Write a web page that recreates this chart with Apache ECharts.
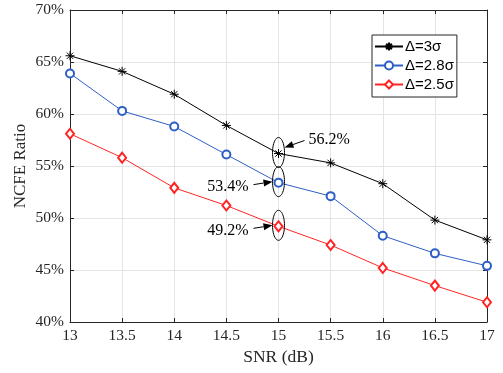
<!DOCTYPE html>
<html>
<head>
<meta charset="utf-8">
<script src="https://cdn.jsdelivr.net/npm/echarts@6/dist/echarts.min.js"></script>
<style>
  html, body { margin: 0; padding: 0; background: #fff; }
  #chart { width: 503px; height: 373px; }
</style>
</head>
<body>
<div id="chart"></div>
<script>
// data
var snr = [13, 13.5, 14, 14.5, 15, 15.5, 16, 16.5, 17];
var ratio3 = [65.6, 64.1, 61.9, 58.9, 56.2, 55.3, 53.3, 49.8, 47.9];
var ratio28 = [63.9, 60.3, 58.8, 56.1, 53.4, 52.1, 48.3, 46.6, 45.4];
var ratio25 = [58.1, 55.8, 52.9, 51.2, 49.2, 47.4, 45.2, 43.5, 41.9];
var seriesNames = ['Δ=3σ', 'Δ=2.8σ', 'Δ=2.5σ'];
// annotated points at SNR = 15 dB
var notes = [
  { x: 15, y: 56.2, text: '56.2%', side: 'right' },
  { x: 15, y: 53.4, text: '53.4%', side: 'left' },
  { x: 15, y: 49.2, text: '49.2%', side: 'left' }
];

function pairs(xs, ys) {
  return xs.map(function (x, i) { return [x, ys[i]]; });
}

var serif = 'Liberation Serif, Times New Roman, serif';
var sans = 'Liberation Sans, Arial, sans-serif';
var axisColor = '#262626';
var star = 'path://M0,-10L0,10M-10,0L10,0M-7,-7L7,7M-7,7L7,-7';

var myChart = echarts.init(document.getElementById('chart'));
var option = {
  animation: false,
  grid: { left: 70, right: 16, top: 10, bottom: 51 },
  legend: {
    orient: 'vertical',
    left: 372,
    top: 35,
    padding: [4, 3, 5, 2],
    itemGap: 4,
    itemWidth: 28,
    itemHeight: 10,
    borderColor: axisColor,
    borderWidth: 1,
    backgroundColor: '#fff',
    textStyle: { fontFamily: sans, fontSize: 15, color: '#000', padding: [0, 0, 0, -3] },
    data: seriesNames
  },
  xAxis: [{
    type: 'value', min: 13, max: 17, interval: 0.5,
    name: 'SNR (dB)', nameLocation: 'middle', nameGap: 24,
    nameTextStyle: { fontFamily: serif, fontSize: 17.5, color: axisColor },
    axisLine: { lineStyle: { color: axisColor } },
    axisTick: { inside: true, length: 4, lineStyle: { color: axisColor } },
    axisLabel: { fontFamily: serif, fontSize: 15.5, color: axisColor, margin: 6 },
    splitLine: { show: true, lineStyle: { color: '#e4e4e4' } }
  }, {
    type: 'value', min: 13, max: 17, interval: 0.5, position: 'top',
    axisLine: { show: true, lineStyle: { color: axisColor } },
    axisTick: { show: true, inside: true, length: 4, lineStyle: { color: axisColor } },
    axisLabel: { show: false }, splitLine: { show: false }
  }],
  yAxis: [{
    type: 'value', min: 40, max: 70, interval: 5,
    name: 'NCFE Ratio', nameLocation: 'middle', nameGap: 41, nameMoveOverlap: false,
    nameTextStyle: { fontFamily: serif, fontSize: 17, color: axisColor },
    axisLine: { show: true, lineStyle: { color: axisColor } },
    axisTick: { show: true, inside: true, length: 4, lineStyle: { color: axisColor } },
    axisLabel: { fontFamily: serif, fontSize: 15.5, color: axisColor, margin: 6, formatter: '{value}%' },
    splitLine: { show: true, lineStyle: { color: '#e4e4e4' } }
  }, {
    type: 'value', min: 40, max: 70, interval: 5, position: 'right',
    axisLine: { show: true, lineStyle: { color: axisColor } },
    axisTick: { show: true, inside: true, length: 4, lineStyle: { color: axisColor } },
    axisLabel: { show: false }, splitLine: { show: false }
  }],
  series: [{
    name: seriesNames[0], type: 'line', data: pairs(snr, ratio3),
    symbol: star, symbolSize: 9, showAllSymbol: true,
    lineStyle: { color: '#000', width: 1 },
    itemStyle: { color: 'rgba(0,0,0,0)', borderColor: '#000', borderWidth: 1 },
    z: 4
  }, {
    name: seriesNames[1], type: 'line', data: pairs(snr, ratio28),
    symbol: 'emptyCircle', symbolSize: 8,
    lineStyle: { color: '#2e5fc4', width: 1 },
    itemStyle: { color: '#2e5fc4', borderColor: '#2e5fc4', borderWidth: 1 },
    z: 3
  }, {
    name: seriesNames[2], type: 'line', data: pairs(snr, ratio25),
    symbol: 'emptyDiamond', symbolSize: [8, 10],
    lineStyle: { color: '#ff2424', width: 1 },
    itemStyle: { color: '#ff2424', borderColor: '#ff2424', borderWidth: 1 },
    z: 2
  }]
};
myChart.setOption(option);

// ellipses, arrows and labels around the points at 15 dB
function ellipsePoints(cx, cy, rx, ry) {
  var pts = [];
  for (var i = 0; i < 48; i++) {
    var a = i / 48 * Math.PI * 2;
    pts.push([cx + rx * Math.cos(a), cy + ry * Math.sin(a)]);
  }
  return pts;
}
function arrow(x1, y1, x2, y2) {
  var ang = Math.atan2(y2 - y1, x2 - x1);
  var len = 9, half = 3.5;
  var bx = x2 - len * Math.cos(ang), by = y2 - len * Math.sin(ang);
  var px = -Math.sin(ang) * half, py = Math.cos(ang) * half;
  return [
    { type: 'line', shape: { x1: x1, y1: y1, x2: bx, y2: by }, style: { stroke: '#000', lineWidth: 1 } },
    { type: 'polygon', shape: { points: [[x2, y2], [bx + px, by + py], [bx - px, by - py]] }, style: { fill: '#000' } }
  ];
}
var elements = [];
notes.forEach(function (n) {
  var p = myChart.convertToPixel({ gridIndex: 0 }, [n.x, n.y]);
  var cx = p[0], cy = p[1] - 1;
  elements.push({ type: 'polygon', shape: { points: ellipsePoints(cx, cy, 6, 15) },
    style: { fill: 'none', stroke: '#000', lineWidth: 1 } });
  if (n.side === 'right') {
    elements = elements.concat(arrow(cx + 26, cy - 12, cx + 6, cy - 5));
    elements.push({ type: 'text', x: cx + 30, y: cy - 13,
      style: { text: n.text, font: '16px ' + serif, fill: '#000', verticalAlign: 'middle', align: 'left' } });
  } else {
    elements = elements.concat(arrow(cx - 25, cy + 3, cx - 6, cy));
    elements.push({ type: 'text', x: cx - 30, y: cy + 5,
      style: { text: n.text, font: '16px ' + serif, fill: '#000', verticalAlign: 'middle', align: 'right' } });
  }
});
myChart.setOption({ graphic: { elements: elements.map(function (e) { e.z = 10; return e; }) } });
</script>
</body>
</html>
